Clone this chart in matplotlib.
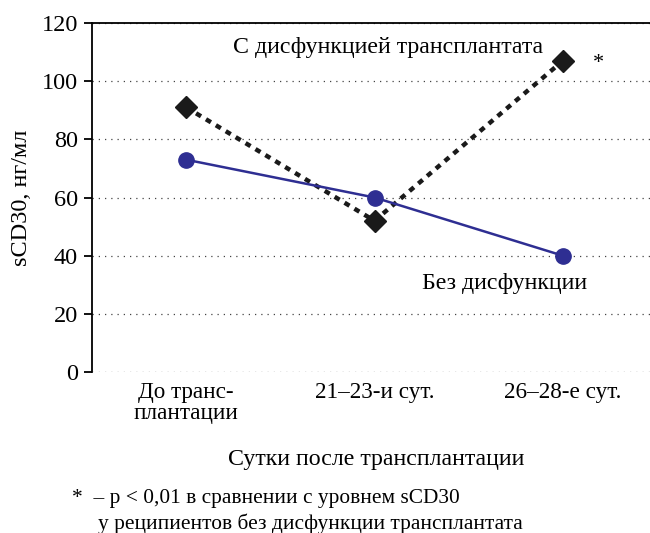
import matplotlib.pyplot as plt

plt.rcParams['font.family'] = ['Liberation Serif', 'DejaVu Serif']

categories = ['До транс-\nплантации', '21–23-и сут.', '26–28-е сут.']
with_dysfunction = [91, 52, 107]
without_dysfunction = [73, 60, 40]
y_ticks = [0, 20, 40, 60, 80, 100, 120]

fig = plt.figure(figsize=(6.5, 5.33), dpi=100)
ax = fig.add_axes([92 / 650, 1 - 372 / 533, (657 - 92) / 650, (372 - 23) / 533])

x = list(range(len(categories)))

# dysfunction group: black dashed line with diamonds
ax.plot(x, with_dysfunction, color='#1a1a1a', linestyle=(0, (1.3, 1.3)), linewidth=3.2,
        marker='D', markersize=11.5, zorder=3)
# without dysfunction: blue line with circles
ax.plot(x, without_dysfunction, color='#2e2e92', linewidth=1.8,
        marker='o', markersize=11, zorder=4)

ax.set_xlim(-0.5, 2.5)
ax.set_ylim(0, 120)
ax.set_yticks(y_ticks)
ax.set_xticks(x)
ax.set_xticklabels(categories, fontsize=16.7, linespacing=1.0)
ax.tick_params(axis='x', length=0, pad=7)
ax.tick_params(axis='y', labelsize=17.5, length=6, width=1.3, direction='out', pad=4)

ax.grid(axis='y', linestyle=(0, (1, 4)), color='#444444', linewidth=0.9)
ax.set_axisbelow(True)

for side in ['right', 'bottom']:
    ax.spines[side].set_visible(False)
ax.spines['left'].set_linewidth(1.3)
ax.spines['top'].set_linewidth(1.3)

ax.set_ylabel('sCD30, нг/мл', fontsize=17.5, labelpad=7)

ax.text(1.07, 111.5, 'С дисфункцией трансплантата', fontsize=17.2,
        ha='center', va='center')
ax.text(2.19, 106, '*', fontsize=16, ha='center', va='center')
ax.text(1.69, 30.5, 'Без дисфункции', fontsize=17.2, ha='center', va='center')

fig.text(376 / 650, 1 - 460 / 533, 'Сутки после трансплантации', fontsize=17.2,
         ha='center', va='center')
fig.text(72 / 650, 1 - 499 / 533, '*  – p < 0,01 в сравнении с уровнем sCD30',
         fontsize=15.4, ha='left', va='center')
fig.text(98 / 650, 1 - 524 / 533, 'у реципиентов без дисфункции трансплантата',
         fontsize=15.4, ha='left', va='center')

fig.savefig('out.png', dpi=100)
